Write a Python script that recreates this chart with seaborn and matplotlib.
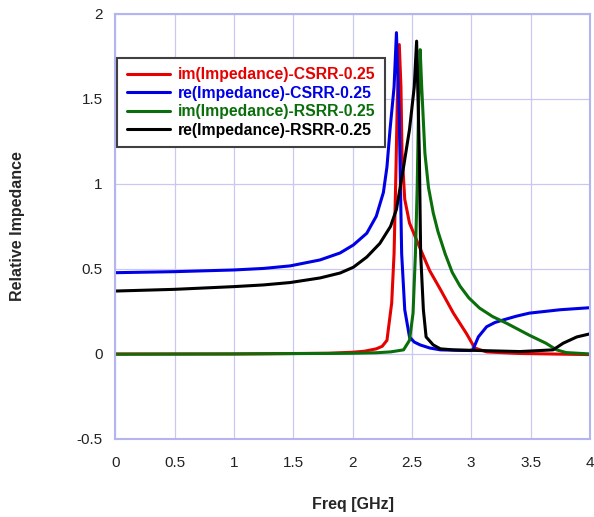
import pandas as pd
import matplotlib.pyplot as plt
import seaborn as sns

# values
x_im_csrr = [0, 1.0, 1.8, 2.0, 2.1, 2.2, 2.25, 2.29, 2.33, 2.35, 2.366, 2.377, 2.394, 2.408, 2.417,
             2.44, 2.48, 2.57, 2.65, 2.74, 2.85, 2.96, 3.03, 3.13, 3.4, 4.0]
y_im_csrr = [0.0, 0.0, 0.004, 0.01, 0.016, 0.03, 0.045, 0.08, 0.3, 0.59, 1.08, 1.48, 1.82, 1.57, 1.18,
             0.91, 0.77, 0.62, 0.49, 0.38, 0.24, 0.12, 0.035, 0.012, 0.003, -0.004]

x_re_csrr = [0, 0.5, 1.0, 1.25, 1.474, 1.726, 1.895, 2.007, 2.12, 2.2, 2.26, 2.29, 2.316, 2.35, 2.37,
             2.394, 2.414, 2.44, 2.48, 2.52, 2.57, 2.65, 2.74, 2.9, 2.99, 3.015, 3.06, 3.13, 3.2,
             3.27, 3.38, 3.49, 3.75, 4.0]
y_re_csrr = [0.478, 0.484, 0.494, 0.503, 0.518, 0.553, 0.594, 0.641, 0.71, 0.81, 0.95, 1.1, 1.32,
             1.57, 1.89, 1.38, 0.59, 0.26, 0.1, 0.07, 0.053, 0.035, 0.024, 0.021, 0.02, 0.025, 0.1,
             0.16, 0.185, 0.2, 0.222, 0.24, 0.26, 0.272]

x_im_rsrr = [0, 1.0, 2.0, 2.2, 2.32, 2.43, 2.48, 2.51, 2.53, 2.545, 2.557, 2.57, 2.583, 2.61, 2.64,
             2.68, 2.72, 2.78, 2.84, 2.905, 2.98, 3.07, 3.18, 3.3, 3.49, 3.63, 3.72, 3.8, 4.0]
y_im_rsrr = [-0.002, 0.0, 0.004, 0.007, 0.012, 0.024, 0.08, 0.24, 0.59, 0.98, 1.48, 1.79, 1.57, 1.18,
             0.98, 0.83, 0.72, 0.59, 0.48, 0.4, 0.33, 0.27, 0.22, 0.18, 0.11, 0.063, 0.024, 0.008, 0.0]

x_re_rsrr = [0, 0.5, 1.0, 1.25, 1.474, 1.726, 1.895, 2.007, 2.12, 2.23, 2.32, 2.37, 2.43, 2.48, 2.52,
             2.54, 2.563, 2.574, 2.597, 2.62, 2.68, 2.74, 2.85, 3.41, 3.69, 3.775, 3.89, 4.0]
y_re_rsrr = [0.37, 0.38, 0.396, 0.406, 0.42, 0.447, 0.476, 0.51, 0.57, 0.65, 0.75, 0.85, 1.1, 1.32,
             1.57, 1.84, 1.18, 0.59, 0.26, 0.1, 0.053, 0.03, 0.024, 0.014, 0.024, 0.063, 0.1, 0.118]

series = ["im(Impedance)-CSRR-0.25", "re(Impedance)-CSRR-0.25",
          "im(Impedance)-RSRR-0.25", "re(Impedance)-RSRR-0.25"]
colors = ["#e60000", "#0000e6", "#0a6e0a", "#000000"]

frames = []
for name, xs, ys in zip(series,
                        [x_im_csrr, x_re_csrr, x_im_rsrr, x_re_rsrr],
                        [y_im_csrr, y_re_csrr, y_im_rsrr, y_re_rsrr]):
    frames.append(pd.DataFrame({"Freq": xs, "Impedance": ys, "Series": name}))
df = pd.concat(frames, ignore_index=True)

sns.set_style("white")
plt.rcParams["font.family"] = ["Liberation Sans", "DejaVu Sans"]

fig, ax = plt.subplots(figsize=(5.94, 5.17), dpi=100)
fig.subplots_adjust(left=0.194, right=0.993, top=0.973, bottom=0.151)

sns.lineplot(data=df, x="Freq", y="Impedance", hue="Series", hue_order=series,
             palette=dict(zip(series, colors)), estimator=None, sort=False,
             linewidth=2.2, ax=ax)

ax.set_xlim(0, 4)
ax.set_ylim(-0.5, 2)
ax.set_xticks([0, 0.5, 1, 1.5, 2, 2.5, 3, 3.5, 4])
ax.set_xticklabels(["0", "0.5", "1", "1.5", "2", "2.5", "3", "3.5", "4"])
ax.set_yticks([-0.5, 0, 0.5, 1, 1.5, 2])
ax.set_yticklabels(["-0.5", "0", "0.5", "1", "1.5", "2"])
ax.grid(True, color="#c8c8f2", linewidth=0.9)
ax.set_axisbelow(True)
for sp in ax.spines.values():
    sp.set_color("#b4b4f0")
    sp.set_linewidth(1.5)
ax.tick_params(axis="both", length=0, labelsize=11, colors="#222222")
ax.tick_params(axis="x", pad=12)
ax.tick_params(axis="y", pad=9)

ax.set_xlabel("Freq [GHz]", fontsize=11.5, fontweight="bold", labelpad=20)
ax.set_ylabel("Relative Impedance", fontsize=11.5, fontweight="bold", labelpad=37)

leg = ax.legend(loc="upper left", bbox_to_anchor=(0.004, 0.897), borderaxespad=0,
                fancybox=False, framealpha=1, edgecolor="#404040",
                prop={"size": 11.3, "weight": "bold"}, handlelength=2.8,
                labelspacing=0.22, handletextpad=0.45, borderpad=0.6)
leg.get_frame().set_linewidth(1.5)
for txt, c in zip(leg.get_texts(), colors):
    txt.set_color(c)

plt.savefig("out.png", dpi=100)
